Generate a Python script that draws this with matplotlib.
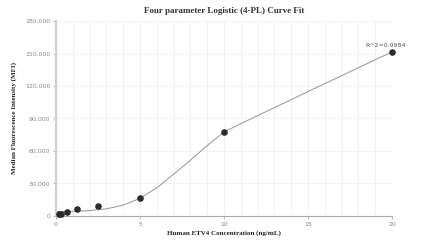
import matplotlib
matplotlib.use("Agg")
import matplotlib.pyplot as plt

# measured standards
conc = [0.156, 0.3125, 0.625, 1.25, 2.5, 5, 10, 20]
mfi = [1570, 2100, 3700, 6200, 9500, 16300, 77500, 151400]

# fitted curve
fit_x = [0, 1, 2, 3, 4, 5, 6, 7, 8, 9, 10, 11, 12, 13, 14, 15, 16, 17, 18, 19, 20]
fit_y = [4000, 4300, 5000, 6600, 10000, 16300, 26000, 38500, 51500, 65000, 77500,
         85200, 92600, 100000, 107400, 114800, 122200, 129500, 136900, 144200, 151400]

yticks = [0, 30000, 60000, 90000, 120000, 150000, 180000]
xticks = [0, 5, 10, 15, 20]

fig = plt.figure(figsize=(4.23, 2.46), dpi=100)
ax = fig.add_axes([0.1324, 0.122, 0.7943, 0.7926])

ax.plot(fit_x, fit_y, color="#a0a0a0", lw=0.8, zorder=2)
ax.scatter(conc, mfi, s=14, color="#2b2b2b", zorder=3, clip_on=False)
ax.text(19.6, 155500, "R^2=0.9984", fontsize=4.5, color="#555555", ha="center", va="bottom")

ax.set_xlim(0, 20)
ax.set_ylim(0, 180000)
ax.set_xticks(xticks)
ax.set_xticks(range(0, 21), minor=True)
ax.set_yticks(yticks)
ax.set_xticklabels([str(v) for v in xticks])
ax.set_yticklabels([f"{v:,}" for v in yticks])
ax.tick_params(labelsize=4.5, labelcolor="#888888", color="#aaaaaa", length=2, width=0.6, pad=2)
ax.tick_params(which="minor", length=0)
ax.grid(True, which="both", color="#eef0f5", lw=0.6)
ax.set_axisbelow(True)

for s in ["top", "right"]:
    ax.spines[s].set_visible(False)
ax.spines["left"].set_color("#d0d0d0")
ax.spines["left"].set_linewidth(1.6)
ax.spines["bottom"].set_color("#a8a8b8")
ax.spines["bottom"].set_linewidth(0.8)

ax.set_title("Four parameter Logistic (4-PL) Curve Fit", fontsize=6.5, fontweight="bold",
             family="Liberation Serif", color="#333333", pad=6)
ax.set_xlabel("Human ETV4 Concentration (ng/mL)", fontsize=5, fontweight="bold",
              family="Liberation Serif", color="#222222", labelpad=3)
ax.set_ylabel("Median Fluorescence Intensity (MFI)", fontsize=5, fontweight="bold",
              family="Liberation Serif", color="#222222", labelpad=6)

fig.savefig("out.png", dpi=100)
